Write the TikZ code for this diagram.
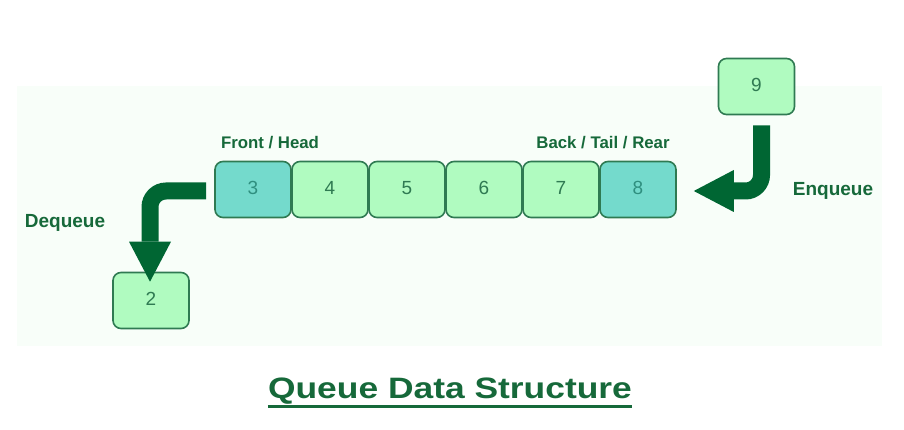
\documentclass[tikz,border=0pt]{standalone}
\usepackage{fontspec}
\setmainfont{Liberation Sans}
\usetikzlibrary{arrows.meta}
\definecolor{bgc}{HTML}{F8FEF9}
\definecolor{lgreen}{HTML}{B0FBC0}
\definecolor{teal1}{HTML}{74DACC}
\definecolor{bord}{HTML}{2F7A52}
\definecolor{numg}{HTML}{2F7A52}
\definecolor{numt}{HTML}{2F8F7F}
\definecolor{dgreen}{HTML}{006633}
\definecolor{labg}{HTML}{16693A}
\begin{document}
\begin{tikzpicture}[x=1pt,y=-1pt,
  cell/.style={draw=bord,line width=1.6pt,rounded corners=8pt,fill=lgreen,
    minimum width=76pt,minimum height=56pt,inner sep=0pt,text depth=4pt,
    text=numg,font=\fontsize{19}{22}\selectfont},
  tcell/.style={cell,fill=teal1,text=numt},
  lab/.style={text=labg,anchor=base,inner sep=0pt,font=\fontsize{16.8}{20}\selectfont\bfseries},
  biglab/.style={text=labg,anchor=base,inner sep=0pt,font=\fontsize{19}{22}\selectfont\bfseries},
  bigarrow/.style={draw=dgreen,line width=17pt,rounded corners=16pt,
    -{Triangle[width=42pt,length=40pt,line width=0pt]}}]
\useasboundingbox (0,0) rectangle (904,430);
\fill[bgc] (17,86) rectangle (882,346);
\node[tcell] (c3) at (253,189.5) {3};
\node[cell]  (c4) at (330,189.5) {4};
\node[cell]  (c5) at (407,189.5) {5};
\node[cell]  (c6) at (484,189.5) {6};
\node[cell]  (c7) at (561,189.5) {7};
\node[tcell] (c8) at (638,189.5) {8};
\node[cell]  (c9) at (756.5,86.5) {9};
\node[cell]  (c2) at (151,300.5) {2};
\node[lab] (fh) at (270,148.5) {Front / Head};
\node[lab] (bt) at (603,149) {Back / Tail / Rear};
\node[biglab] (dq) at (65,228) {Dequeue};
\node[biglab] (eq) at (833,196) {Enqueue};
\draw[bigarrow] ([xshift=5pt,yshift=-10pt]c9.south) |- ([xshift=17pt,yshift=-1.5pt]c8.east);
\draw[bigarrow] ([xshift=-8pt,yshift=-1.5pt]c3.west) -| ([xshift=-1pt,yshift=-10pt]c2.north);
\node[text=labg,anchor=base,inner sep=0pt,font=\fontsize{29.5}{34}\selectfont\bfseries] (title) at (450,398.5) {\scalebox{1.2}[1]{Queue Data Structure}};
\draw[labg,line width=2.6pt] ([yshift=-8.2pt]title.base west) -- ([yshift=-8.2pt]title.base east);
\end{tikzpicture}
\end{document}
